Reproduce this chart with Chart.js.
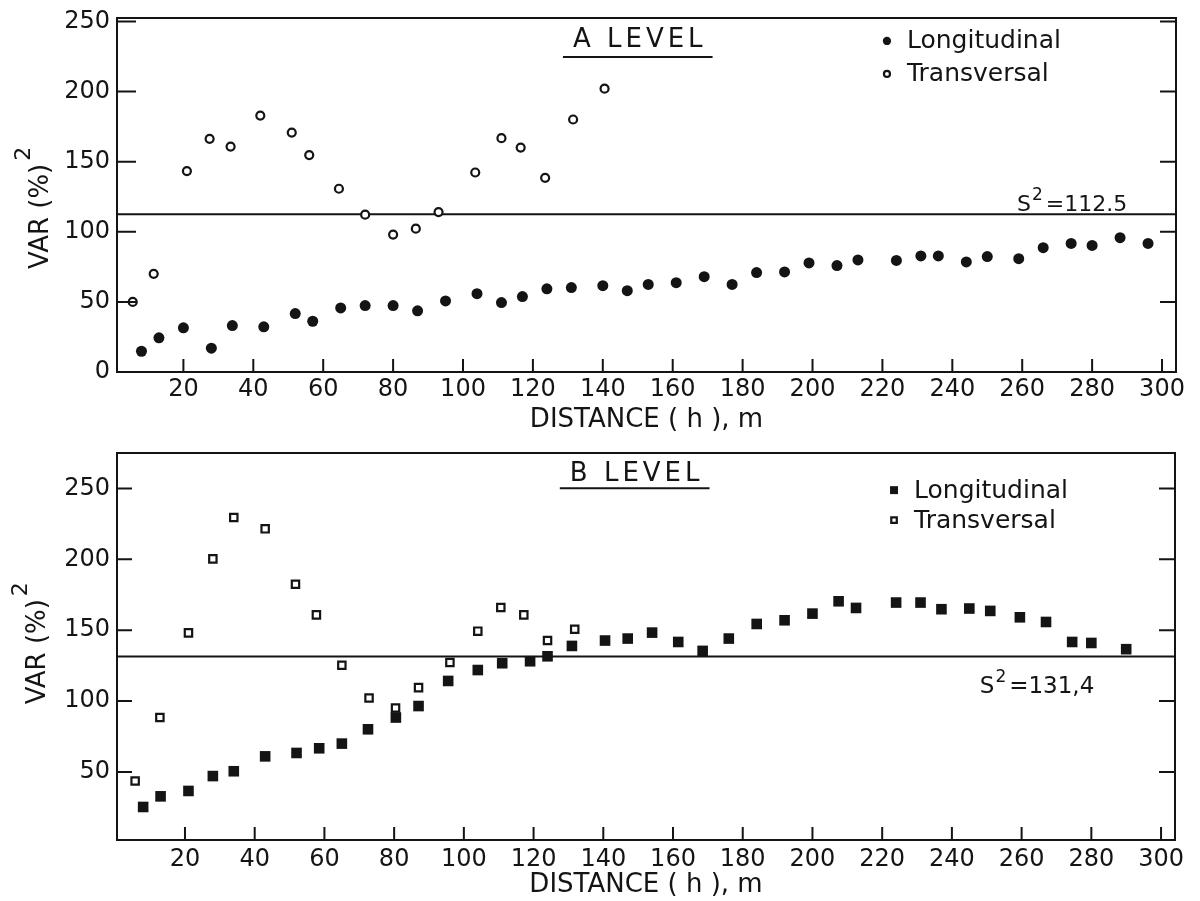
<!DOCTYPE html>
<html>
<head>
<meta charset="utf-8">
<script src="https://cdn.jsdelivr.net/npm/chart.js@4.4.1/dist/chart.umd.min.js"></script>
<style>
  body { margin: 0; background: #fff; }
  .panel { position: absolute; left: 0; }
</style>
</head>
<body>
<div class="panel" style="top:0"><canvas id="chartA" width="1200" height="440"></canvas></div>
<div class="panel" style="top:440px"><canvas id="chartB" width="1200" height="461"></canvas></div>
<script>
// A level
const distLongA = [8, 13, 20, 28, 34, 43, 52, 57, 65, 72, 80, 87, 95, 104, 111, 117, 124, 131, 140, 147,
  153, 161, 169, 177, 184, 192, 199, 207, 213, 224, 231, 236, 244, 250, 259, 266, 274, 280, 288, 296];
const varLongA = [14.8, 24.4, 31.5, 17.0, 33.1, 32.2, 41.7, 36.2, 45.7, 47.4, 47.4, 43.6, 50.7, 55.9, 49.5, 53.8, 59.3, 60.2, 61.6, 58.0,
  62.5, 63.7, 68.0, 62.5, 70.9, 71.4, 77.8, 75.9, 79.9, 79.6, 82.8, 82.8, 78.5, 82.3, 80.8, 88.7, 91.7, 90.3, 95.8, 91.7];
const distTransA = [5.5, 11.5, 21, 27.5, 33.5, 42, 51, 56, 64.5, 72, 80, 86.5, 93, 103.5, 111, 116.5, 123.5, 131.5, 140.5];
const varTransA = [50, 70, 143.3, 166.3, 160.8, 182.9, 170.8, 154.7, 130.7, 112.2, 98, 102.2, 114.1, 142.3, 166.8, 160.1, 138.5, 180.1, 202.1];
const s2A = 112.5;

// B level
const distLongB = [8, 13, 21, 28, 34, 43, 52, 58.5, 65, 72.5, 80.5, 87, 95.5, 104, 111, 119, 124, 131, 140.5, 147,
  154, 161.5, 168.5, 176, 184, 192, 200, 207.5, 212.5, 224, 231, 237, 245, 251, 259.5, 267, 274.5, 280, 290];
const varLongB = [25.3, 32.8, 36.6, 47.1, 50.5, 61.0, 63.4, 66.7, 70.0, 80.1, 88.4, 96.5, 114.2, 121.9, 126.7, 128.1, 131.6, 138.9, 142.7, 144.1,
  148.3, 141.7, 135.4, 144.1, 154.4, 157.0, 161.7, 170.4, 165.7, 169.5, 169.5, 164.8, 165.3, 163.6, 159.1, 155.8, 141.7, 141.0, 136.6];
const distTransB = [5.7, 12.8, 21, 28, 34, 43, 51.7, 57.7, 65, 72.8, 80.4, 87, 96, 104, 110.6, 117.2, 124, 131.8];
const varTransB = [43.6, 88.4, 148.1, 200.3, 229.5, 221.5, 182.4, 160.8, 125.3, 102.2, 95.1, 109.5, 127.2, 149.3, 166.0, 160.8, 142.7, 150.7];
const s2B = 131.4;

// tick labels
const distTicks = [20, 40, 60, 80, 100, 120, 140, 160, 180, 200, 220, 240, 260, 280, 300];
const varTicksA = [0, 50, 100, 150, 200, 250];
const varTicksB = [50, 100, 150, 200, 250];

const INK = '#141414';
const FONT = '"DejaVu Sans", sans-serif';

const toPoints = (xs, ys) => xs.map((x, i) => ({ x: x, y: ys[i] }));

// frame, inward ticks, y title, panel title, legend and S² label
const decor = {
  id: 'decor',
  afterDatasetsDraw(chart, args, o) {
    const { ctx, chartArea: a, scales: { x, y } } = chart;
    ctx.save();
    ctx.strokeStyle = INK;
    ctx.fillStyle = INK;
    ctx.lineWidth = 2;
    ctx.strokeRect(a.left, a.top, a.right - a.left, a.bottom - a.top);

    ctx.beginPath();
    y.ticks.forEach(t => {
      const py = y.getPixelForValue(t.value);
      if (py <= a.top + 3 || py >= a.bottom - 3) return;
      ctx.moveTo(a.left, py); ctx.lineTo(a.left + o.tickY, py);
      ctx.moveTo(a.right, py); ctx.lineTo(a.right - 16, py);
    });
    x.ticks.forEach(t => {
      const px = x.getPixelForValue(t.value);
      ctx.moveTo(px, a.bottom); ctx.lineTo(px, a.bottom - 13);
    });
    ctx.stroke();

    // y axis title with raised 2
    ctx.save();
    ctx.translate(o.yTitle.px, y.getPixelForValue(o.yTitle.y));
    ctx.rotate(-Math.PI / 2);
    ctx.font = '26px ' + FONT;
    ctx.textBaseline = 'middle';
    ctx.textAlign = 'left';
    const yt = 'VAR (%)';
    const yw = ctx.measureText(yt).width;
    ctx.fillText(yt, -yw / 2, 0);
    ctx.font = '22px ' + FONT;
    ctx.fillText('2', yw / 2 + 3, -17);
    ctx.restore();

    // panel title, underlined
    ctx.font = '26px ' + FONT;
    ctx.letterSpacing = '4px';
    ctx.textAlign = 'center';
    ctx.textBaseline = 'middle';
    const tx = x.getPixelForValue(o.title.x);
    const ty = y.getPixelForValue(o.title.y);
    ctx.fillText(o.title.text, tx + 2, ty);
    const tw = ctx.measureText(o.title.text).width;
    ctx.beginPath();
    ctx.moveTo(tx - tw / 2 - 8, ty + o.title.under);
    ctx.lineTo(tx + tw / 2 + 8, ty + o.title.under);
    ctx.stroke();
    ctx.letterSpacing = '0px';

    // legend
    ctx.font = '25px ' + FONT;
    ctx.textAlign = 'left';
    o.legend.forEach(item => {
      const ds = chart.data.datasets[item.dataset];
      const mx = x.getPixelForValue(o.legendAt.x);
      const my = y.getPixelForValue(item.y);
      ctx.fillStyle = ds.backgroundColor;
      ctx.strokeStyle = INK;
      ctx.lineWidth = ds.borderWidth;
      Chart.helpers.drawPoint(ctx, {
        pointStyle: ds.pointStyle, radius: ds.pointRadius * 0.75,
        borderWidth: ds.borderWidth, rotation: 0
      }, mx, my);
      ctx.fillStyle = INK;
      ctx.fillText(ds.label, mx + 20, my + 1);
    });

    // S² label
    const sx = x.getPixelForValue(o.s2Label.x);
    const sy = y.getPixelForValue(o.s2Label.y);
    const fs = o.s2Label.size;
    ctx.textBaseline = 'alphabetic';
    ctx.font = fs + 'px ' + FONT;
    ctx.fillText('S', sx, sy);
    let cx = sx + ctx.measureText('S').width + 1;
    ctx.font = Math.round(fs * 0.75) + 'px ' + FONT;
    ctx.fillText('2', cx, sy - fs * 0.5);
    cx += ctx.measureText('2').width + 3;
    ctx.font = fs + 'px ' + FONT;
    ctx.fillText(o.s2Label.text, cx, sy);
    ctx.restore();
  }
};

// stop edge tick labels from pushing the plot area around
function noLabelPadding(s) {
  s.paddingTop = 0;
  s.paddingBottom = 0;
  s.paddingLeft = 0;
  s.paddingRight = 0;
}

function makePanel(id, p) {
  new Chart(document.getElementById(id), {
    type: 'scatter',
    data: {
      datasets: [
        {
          label: 'Longitudinal',
          data: toPoints(p.distLong, p.varLong),
          pointStyle: p.marker,
          pointRadius: p.fillRadius,
          backgroundColor: INK,
          borderColor: INK,
          borderWidth: 0,
          order: 1
        },
        {
          label: 'Transversal',
          data: toPoints(p.distTrans, p.varTrans),
          pointStyle: p.marker,
          pointRadius: p.openRadius,
          backgroundColor: '#ffffff',
          borderColor: INK,
          borderWidth: 2.2,
          order: 0
        },
        {
          type: 'line',
          label: 'S2',
          data: [{ x: p.xMin, y: p.s2 }, { x: p.xMax, y: p.s2 }],
          borderColor: INK,
          borderWidth: 2,
          pointRadius: 0,
          order: 3
        }
      ]
    },
    options: {
      responsive: false,
      animation: false,
      events: [],
      layout: { padding: { top: p.padTop, right: p.padRight, left: 0, bottom: 0 } },
      plugins: {
        legend: { display: false },
        tooltip: { enabled: false },
        decor: {
          tickY: p.tickY,
          yTitle: p.yTitle,
          title: p.title,
          legendAt: p.legendAt,
          legend: p.legend,
          s2Label: p.s2Label
        }
      },
      scales: {
        x: {
          type: 'linear',
          min: p.xMin,
          max: p.xMax,
          afterBuildTicks: s => { s.ticks = distTicks.map(v => ({ value: v })); },
          afterFit: s => { s.height = p.xAxisHeight; noLabelPadding(s); },
          grid: { display: false, drawTicks: false },
          border: { display: false },
          ticks: { color: INK, padding: p.xTickPad, maxRotation: 0, autoSkip: false, font: { family: FONT, size: 24 } },
          title: {
            display: true,
            text: 'DISTANCE ( h ), m',
            color: INK,
            font: { family: FONT, size: 26 },
            padding: { top: 0, bottom: p.xTitlePad }
          }
        },
        y: {
          min: p.yMin,
          max: p.yMax,
          afterBuildTicks: s => { s.ticks = p.yTicks.map(v => ({ value: v })); },
          afterFit: s => { s.width = 117; noLabelPadding(s); },
          grid: { display: false, drawTicks: false },
          border: { display: false },
          ticks: { color: INK, padding: 7, font: { family: FONT, size: 24 } }
        }
      }
    },
    plugins: [decor]
  });
}

makePanel('chartA', {
  distLong: distLongA, varLong: varLongA, distTrans: distTransA, varTrans: varTransA, s2: s2A,
  marker: 'circle', fillRadius: 5.5, openRadius: 4,
  xMin: 1, xMax: 304, yMin: 0, yMax: 252.5, yTicks: varTicksA,
  padTop: 18, padRight: 24, xAxisHeight: 68, xTickPad: 3, xTitlePad: 4, tickY: 19,
  yTitle: { px: 41, y: 111 },
  title: { text: 'A LEVEL', x: 150, y: 236.8, under: 17 },
  legendAt: { x: 221.3 },
  legend: [{ dataset: 0, y: 236.1 }, { dataset: 1, y: 212.6 }],
  s2Label: { text: '=112.5', x: 258.5, y: 115, size: 22 }
});

makePanel('chartB', {
  distLong: distLongB, varLong: varLongB, distTrans: distTransB, varTrans: varTransB, s2: s2B,
  marker: 'rect', fillRadius: 7.5, openRadius: 5.2,
  xMin: 0.5, xMax: 304, yMin: 2, yMax: 275, yTicks: varTicksB,
  padTop: 13, padRight: 25, xAxisHeight: 61, xTickPad: 5, xTitlePad: 0, tickY: 15,
  yTitle: { px: 38, y: 134.8 },
  title: { text: 'B LEVEL', x: 149, y: 260, under: 14 },
  legendAt: { x: 223.4 },
  legend: [{ dataset: 0, y: 248.8 }, { dataset: 1, y: 227.6 }],
  s2Label: { text: '=131,4', x: 248, y: 105.5, size: 23 }
});
</script>
</body>
</html>
